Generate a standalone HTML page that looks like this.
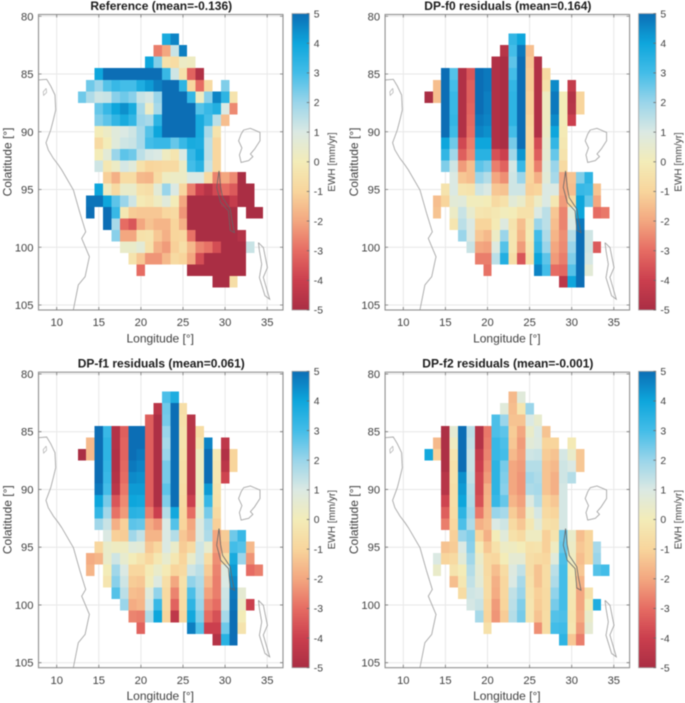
<!DOCTYPE html>
<html lang="en">
<head>
<meta charset="utf-8">
<title>EWH residual maps</title>
<style>
html,body{margin:0;padding:0;background:#fff;}
body{width:685px;height:703px;overflow:hidden;}
svg{display:block;font-family:"Liberation Sans",sans-serif;filter:blur(0.55px);}
</style>
</head>
<body>
<svg id="fig" xmlns="http://www.w3.org/2000/svg" width="685" height="703" viewBox="0 0 685 703"><defs id="defs"></defs></svg>
<script>
const _ = null;
const longitudes = [13,14,15,16,17,18,19,20,21,22,23,24,25,26,27,28,29,30,31,32,33,34];
const colatitudes = [82,83,84,85,86,87,88,89,90,91,92,93,94,95,96,97,98,99,100,101,102,103];
const xTickLabels = [10,15,20,25,30,35];
const yTickLabels = [80,85,90,95,100,105];
const colorTickLabels = [5,4,3,2,1,0,-1,-2,-3,-4,-5];
const colormapValues = [-5,-4,-3,-2,-1,0,1,2,3,4,5];
const colormapColors = ["#aa2e44","#cb3f4e","#e66c63","#f3a780","#f8d59c","#f3ecb8","#dbe9e3","#9ad5ea","#43bde8","#0ea6dc","#0c6eb5"];
const panelTitles = ["Reference (mean=-0.136)","DP-f0 residuals (mean=0.164)","DP-f1 residuals (mean=0.061)","DP-f2 residuals (mean=-0.001)"];
const panelNames = ["reference","dp-f0","dp-f1","dp-f2"];

const referenceValues = [
[_,_,_,_,_,_,_,_,_,_,3.8,4.6,_,_,_,_,_,_,_,_,_,_],
[_,_,_,_,_,_,_,_,_,-2.7,-2,1.3,4.7,_,_,_,_,_,_,_,_,_],
[_,_,_,_,_,_,_,_,4,2.3,-.5,-.7,.3,.2,_,_,_,_,_,_,_,_],
[_,_,4,5,5,5,5,5,5,5,3.2,1.2,-.5,-3.2,-4.8,_,_,_,_,_,_,_],
[_,2.5,2,2.8,3.2,3,3,3.7,4.2,4.7,5,5,3.4,-.9,-3,-.8,_,2.3,_,_,_,_],
[2.5,1.7,1.2,1.3,2.2,2.5,2.2,1.3,1.1,2,5,5,5,3.3,.2,2.2,4.6,3.4,-.4,_,_,_],
[_,_,2.6,3.2,4,4.4,3.8,1.8,.3,1.8,5,5,5,5,2.8,3.2,3.6,1,-2.5,_,_,_],
[_,_,2.3,2.7,3.3,3.8,3.3,2,1.8,3.4,5,5,5,5,3.8,3,1.5,-1.5,_,_,_,_],
[_,_,0,.3,.8,1,1.2,1.8,2.8,4,5,5,5,5,3.8,1.8,-.4,_,_,_,_,_],
[_,_,-.8,0,.8,1.2,1.3,1.8,3,3.2,3.2,2.6,3.2,3.8,3.7,1.5,-.9,_,_,_,_,_],
[_,_,0,.7,2,2.7,2.5,1.5,1.1,1,.2,-.3,1,3.2,3.9,1.5,-.9,_,_,_,_,_],
[_,_,1.2,-.2,.3,1.1,.8,-.5,-1,-.9,-.8,-.8,.3,3,3.5,1.3,-.9,_,_,_,_,_],
[_,_,_,-1.1,-1.8,-.7,-.7,-1.6,-1.7,-.7,.2,.3,.3,1,1,-.8,-2.6,-2,-2.5,-5,_,_],
[_,_,4,.2,-.8,.4,.4,-.5,-.6,.7,2,1,-.9,-2.7,-4,-4.6,-3.8,-3,-3.4,-5,-5,_],
[_,4.9,4.9,4,2.7,2,1.2,-.1,-.3,.2,.8,0,-2,-5,-5,-5,-5,-4.8,-4.2,-5,-5,_],
[_,5,_,5,3.2,-.2,-1.2,-1.3,-1.3,-1.3,-.9,-.8,-2.3,-5,-5,-5,-5,-5,-5,_,-5,-5],
[_,_,_,5,1.8,-3,-3.5,-2,-1.4,-1.7,-1.7,-1,-1.8,-5,-5,-5,-5,-5,-5,_,_,_],
[_,_,_,_,2.2,-2,-2,-.5,-.4,-1.3,-1.8,-1,-.9,-2.9,-5,-5,-5,-5,-5,-4.7,_,_],
[_,_,_,_,_,.4,.4,.7,-.5,-1.8,-2.2,-1.1,-.6,-1.6,-2.6,-2.9,-3.7,-5,-5,-5,1.3,_],
[_,_,_,_,_,_,-.4,-1.3,-2.3,-2.3,-1.6,-.8,-1,-2,-3.7,-5,-5,-5,-5,-5,_,_],
[_,_,_,_,_,_,_,-3,_,_,_,_,_,-5,-5,-5,-5,-5,-5,-5,_,_],
[_,_,_,_,_,_,_,_,_,_,_,_,_,_,_,_,-5,-5,-.6,_,_,_]
];

const dpF0Values = [
[_,_,_,_,_,_,_,_,_,_,3.3,4,_,_,_,_,_,_,_,_,_,_],
[_,_,_,_,_,_,_,_,_,-4.6,3,4.8,-1.5,_,_,_,_,_,_,_,_,_],
[_,_,_,_,_,_,_,_,-4.8,-5,2.7,5,-1.3,-4.8,_,_,_,_,_,_,_,_],
[_,_,5,2.8,-4.8,-3.5,5,4.8,-4.8,-5,3,5,-1.2,-4.8,-.8,_,_,_,_,_,_,_],
[_,-1.5,5,3,-4.8,-3.3,5,4.8,-4.8,-5,3.3,5,-1.2,-4.8,-.5,4.5,_,-4.2,_,_,_,_],
[-5,-1.5,5,3.2,-4.8,-3.3,5,4.7,-4.8,-5,3.4,5,-1.1,-4.8,.2,4.8,0,-4.7,-1,_,_,_],
[_,_,5,3.2,-4.8,-3.2,5,4.7,-4.8,-5,3.4,5,-1.1,-4.8,.2,4.8,0,-4.6,-1,_,_,_],
[_,_,5,3.3,-4.8,-3.1,4.8,4.6,-4.8,-5,3.4,5,-1,-4.8,.2,4.5,0,-4,_,_,_,_],
[_,_,5,3.1,-4.8,-3,4.6,4.4,-4.8,-5,3,5,-.9,-4.8,.3,4,-.1,_,_,_,_,_],
[_,_,4,2.5,-3.8,-2.7,4,4,-4.8,-5,2.4,5,-.9,-3.7,.5,3.3,-.2,_,_,_,_,_],
[_,_,3.3,1.9,-3.3,-2.5,3.5,3.5,-3.6,-4,1.9,4.3,-1,-3.3,.6,2.6,-.4,_,_,_,_,_],
[_,_,2.3,1.2,-2.2,-1.5,2.7,2.4,-2.7,-3.2,1.1,3.2,-1,-2.7,.8,2,-.8,_,_,_,_,_],
[_,_,_,1,-1.3,-1.5,2,1.6,-2,-2.4,1.2,2,-1,-1.8,.7,1.8,-2,-1.4,2.3,3.4,_,_],
[_,_,-.4,1,-.3,-.4,1.2,1,-1.3,-1.4,1.2,1.2,-1.1,-1,1,1,-2,-1.5,3.2,3.1,-1.4,_],
[_,-1.5,-1,.7,.8,.1,.1,0,-.8,-.5,.7,.4,-.6,.3,1,-.2,-2.2,-.8,4,2.6,-2,_],
[_,-1.4,_,.3,1.3,.5,-.3,-.4,-.2,.1,0,-.5,-.5,1,1.5,-1.3,-2.6,.8,4,_,-3,-2.8],
[_,_,_,-.3,1.5,1,-1,-1,-.1,.9,-.4,-1.5,-.2,2,1.5,-1.5,-2.6,1,4.8,_,_,_],
[_,_,_,_,2,1,-1.3,-1.6,.3,2,-.3,-1.7,-.1,3,1.7,-1.7,-2.4,1.6,5,1.2,_,_],
[_,_,_,_,_,1.3,-2,-2.1,.9,2.8,-.3,-2.2,-.3,3.3,2,-2,-2.5,2,5,1.2,-3.4,_],
[_,_,_,_,_,_,-2.7,-2.7,1.5,3.6,-.6,-3.5,-.5,4,2.7,-2.2,-2.7,2.3,5,1.1,_,_],
[_,_,_,_,_,_,_,-2.9,_,_,_,_,_,4.6,3,-3,-3.1,2.8,5,.7,_,_],
[_,_,_,_,_,_,_,_,_,_,_,_,_,_,_,_,-4.5,4,5,_,_,_]
];

const dpF1Values = [
[_,_,_,_,_,_,_,_,_,_,2.9,3.7,_,_,_,_,_,_,_,_,_,_],
[_,_,_,_,_,_,_,_,_,-4.5,2.5,5,-.6,_,_,_,_,_,_,_,_,_],
[_,_,_,_,_,_,_,_,-3.3,-4.9,2.4,5,-.5,-4.6,_,_,_,_,_,_,_,_],
[_,_,5,3.2,-4.7,-3.3,5,5,-3.3,-4.9,2,5,-.4,-4.6,-.7,_,_,_,_,_,_,_],
[_,-1.6,5,3.4,-4.7,-3.2,5,5,-3.3,-4.9,1.8,5,-.4,-4.6,-.4,4.6,_,-4.4,_,_,_,_],
[-5,-1.6,5,3.4,-4.8,-3.2,5,4.8,-3.3,-4.9,2,5,-.5,-4.6,.2,5,-.1,-4.8,-1,_,_,_],
[_,_,5,3.3,-4.8,-3.1,4.8,4.6,-3.3,-4.9,2.4,5,-.6,-4.6,.2,5,-.2,-4.5,-1,_,_,_],
[_,_,5,3.2,-4.7,-3,4.5,4.4,-3.3,-4.9,2.4,5,-.6,-4.6,.2,5,-.2,-3.9,_,_,_,_],
[_,_,4.8,3,-4.5,-2.8,4.2,4.2,-3.3,-4.9,2.7,5,-.7,-4.6,.2,4.2,-.4,_,_,_,_,_],
[_,_,4,2.4,-3.5,-2.5,4,3.9,-3.3,-4.9,2.3,5,-.8,-4,.3,3.2,-.5,_,_,_,_,_],
[_,_,3.3,1.9,-2.9,-2.2,3.5,3.4,-2.7,-4,1.6,3.9,-.9,-3,.5,2.4,-.8,_,_,_,_,_],
[_,_,1.9,1.3,-1.8,-1.1,2.7,2.6,-1.9,-2.3,1,2.8,-1,-2,.9,1.8,-1.1,_,_,_,_,_],
[_,_,_,1,-1.1,-1.2,1.9,1.4,-1.7,-1.7,1,1.6,-1.3,-1.8,.9,1.7,-2,-1.2,2.5,3.2,_,_],
[_,_,-.9,.4,.2,.2,.8,.7,-1.3,-.9,1,.4,-1.2,-.8,1.2,.5,-2.1,-1.4,3,2.8,-1.6,_],
[_,-1.9,-1.7,.4,1.2,.5,0,-.4,-.9,-.2,.5,-.2,-1,.4,1.2,-.7,-2.4,-.7,3.8,2,-2.3,_],
[_,-1.7,_,0,1.9,1,-.9,-.9,-.1,.4,-.1,-1,-.8,1.2,1.5,-1.2,-2.6,.9,4.2,_,-3,-2.7],
[_,_,_,-.3,2.2,1.2,-1.2,-1.3,.1,.9,-.6,-2,-.5,2.1,1.7,-1.6,-2.7,1,4.5,_,_,_],
[_,_,_,_,2.8,1.5,-1.5,-1.6,.8,2.1,-.8,-2.6,-.6,2.9,1.8,-2.1,-2.7,1.2,4.8,.6,_,_],
[_,_,_,_,_,2,-1.9,-1.7,1.1,3.2,-.8,-3.2,-.7,3.4,2,-2.6,-3,1.3,4.9,.3,-4,_],
[_,_,_,_,_,_,-2.6,-2.7,1.7,4,-1,-4.4,-.9,3.9,2.3,-3,-3.6,1.8,5,0,_,_],
[_,_,_,_,_,_,_,-3.2,_,_,_,_,_,4.7,2.8,-4,-4,2.5,5,-.4,_,_],
[_,_,_,_,_,_,_,_,_,_,_,_,_,_,_,_,-4.7,3.5,5,_,_,_]
];

const dpF2Values = [
[_,_,_,_,_,_,_,_,_,_,-1.6,.8,_,_,_,_,_,_,_,_,_,_],
[_,_,_,_,_,_,_,_,_,.8,-1.5,-.3,2,_,_,_,_,_,_,_,_,_],
[_,_,_,_,_,_,_,_,2.9,2,-1.4,-1.4,1,.5,_,_,_,_,_,_,_,_],
[_,_,-4.9,.6,5,1.5,-4.7,-2.8,2.9,2.7,-1.2,-2,.4,1,-1.4,_,_,_,_,_,_,_],
[_,-1.6,-4.9,.2,5,1.4,-4.7,-2.7,3.2,2.9,-1.3,-2.2,.7,.9,-1,-1,_,-.1,_,_,_,_],
[3.9,-1.1,-4.9,-.3,5,1.3,-4.2,-2.6,3.2,3,-1.6,-2.1,1.2,1.3,-1.2,-1.4,1.1,.4,-1.3,_,_,_],
[_,_,-4.9,-.5,5,1.3,-4,-2.4,3.4,2.4,-2,-2.2,1.6,1.6,-1.4,-1.6,1.2,1,-1.3,_,_,_],
[_,_,-4.6,-.5,4.4,1.4,-3.8,-2.2,3.4,2.3,-2,-2.3,1.9,1.7,-1.4,-1.8,1.2,1.6,_,_,_,_],
[_,_,-4.6,-.6,4.2,1.6,-3.8,-1.8,3.4,2.2,-2,-2.3,1.7,1.8,-1.4,-1.8,1.1,_,_,_,_,_],
[_,_,-3.9,-.6,4,1.7,-3.6,-1.7,3.2,2.6,-1.7,-2.1,.9,1.6,-1,-1.3,1.1,_,_,_,_,_],
[_,_,-3.3,-.7,3.4,1.9,-2.8,-1.6,2,1.8,-1.2,-1.8,.3,1.1,-.8,-1,1.1,_,_,_,_,_],
[_,_,-2.7,-.9,2.9,1.7,-1.8,-1.5,1,1.2,-.8,-1.3,-.2,.7,-.5,-.6,1.1,_,_,_,_,_],
[_,_,_,-1.1,2,2.3,-1,-1.8,0,.8,-.5,-.8,.2,.2,-1.1,-.4,2.5,.4,-1.5,-1,_,_],
[_,_,-1.4,-1.2,1,2.2,-.1,-1.3,-.5,.3,.2,0,-.5,-.4,-1.1,.2,2.6,.3,-1.3,-1,1.8,_],
[_,1,-1,-.8,.7,1.9,.4,-.8,-.9,0,.6,.6,-.6,-.8,-.9,.8,2.9,.2,-1.5,-1,2,_],
[_,.4,_,-.4,0,1.6,.6,-.8,-1.5,-.7,.9,1.4,-.6,-1.4,-.7,1.5,3,-.1,-1.3,_,2.8,3],
[_,_,_,-1.5,-.2,1.4,.7,-.7,-1.8,-.9,1,1.8,-.5,-1.4,-.7,1.7,3,-.2,-1.7,_,_,_],
[_,_,_,_,-.7,1.2,1.1,-.7,-1.9,-.9,1.4,2,-.4,-1.1,-.8,2.1,3,-.2,-2,-.5,_,_],
[_,_,_,_,_,1.1,1.3,-.9,-2.2,-1,1.5,2.3,-.3,-1.2,-.8,2.4,3,-.3,-2,0,3.7,_],
[_,_,_,_,_,_,1.8,-1,-2.3,-1.2,1.6,2.4,-.3,-1.4,-.7,2.8,2.9,-.4,-1.9,.4,_,_],
[_,_,_,_,_,_,_,-.5,_,_,_,_,_,-2.4,-.7,3,3.1,-.3,-2.2,.6,_,_],
[_,_,_,_,_,_,_,_,_,_,_,_,_,_,_,_,3.4,-1.3,-2.7,_,_,_]
];

const panelValues = [referenceValues, dpF0Values, dpF1Values, dpF2Values];

/* map outlines as [longitude, colatitude] pairs */
const coastline = [[7.82,85.52],[8.81,85.46],[9.29,86.04],[9.8,86.82],[9.88,88.12],[9.6,88.98],[9.29,89.85],[8.73,90.95],[9,91.58],[9.6,92.3],[10.2,92.88],[10.6,93.31],[11.98,95.04],[12.77,97.06],[13.44,98.66],[12.97,99.23],[13.88,100.82],[13.37,102.55],[12.57,103.27],[11.98,105.4]];
const smallLake = [[8.75,86.25],[8.4,86.55],[8.45,86.85],[8.8,86.6],[8.75,86.25]];
const lakeVictoria = [[32.2,89.85],[33,89.7],[34.15,90.06],[34.15,90.78],[33.5,91.5],[33,91.93],[33.3,92.15],[32.8,92.5],[31.9,92.65],[31.7,92],[32,91.4],[31.6,90.78],[31.9,90.2],[32.2,89.85]];
const lakeTanganyika = [[29.28,93.39],[29.48,94.83],[29.7,95.7],[30.6,96.7],[30.8,97.6],[31.1,98.73],[30.6,98.53],[30.4,96.85],[29.48,96.13],[29,94.83],[29.28,93.39]];
const lakeMalawi = [[33.95,99.6],[34.55,100.03],[35.02,101.76],[34.54,102.6],[35.3,104.5],[34.74,104.2],[34.07,102.63],[34.35,101.47],[34.07,100.3],[33.95,99.6]];

const SVGNS = "http://www.w3.org/2000/svg";
const fig = document.getElementById("fig");
const defs = document.getElementById("defs");
const GREY = "#8f8f8f", TEXT = "#404040";

function make(tag, attrs, parent, text) {
  const el = document.createElementNS(SVGNS, tag);
  for (const k in attrs) el.setAttribute(k, attrs[k]);
  if (text !== undefined) el.textContent = text;
  (parent || fig).appendChild(el);
  return el;
}
function hexToRgb(h) {
  return [parseInt(h.slice(1,3),16),parseInt(h.slice(3,5),16),parseInt(h.slice(5,7),16)];
}
function colorFor(v) {
  const c = Math.max(colormapValues[0], Math.min(colormapValues[colormapValues.length-1], v));
  let i = 0;
  while (i < colormapValues.length-2 && c > colormapValues[i+1]) i++;
  const t = (c-colormapValues[i])/(colormapValues[i+1]-colormapValues[i]);
  const a = hexToRgb(colormapColors[i]), b = hexToRgb(colormapColors[i+1]);
  return "rgb("+a.map((x,k)=>Math.round(x+(b[k]-x)*t)).join(",")+")";
}

/* shared colorbar gradient */
const gradient = make("linearGradient",{id:"cbGrad",x1:0,y1:1,x2:0,y2:0},defs);
colormapValues.forEach((v,i)=>{
  make("stop",{offset:(v-colormapValues[0])/(colormapValues[colormapValues.length-1]-colormapValues[0]),"stop-color":colormapColors[i]},gradient);
});

function drawPanel(index) {
  const ox = index % 2 ? 346.6 : 0;
  const oy = index > 1 ? 357.7 : 0;
  const x = lon => ox + 56.7 + (lon-10)*8.42;
  const y = col => oy + 74 + (col-85)*11.55;
  const left = ox+38.5, right = ox+283, top = oy+14.5, bottom = oy+310;
  const name = panelNames[index];

  const g = make("g",{});
  
  

  const clip = make("clipPath",{id:"clip"+index},defs);
  make("rect",{x:left,y:top,width:right-left,height:bottom-top},clip);

  const title = make("text",{x:(left+right)/2+0.5,y:oy+10,"text-anchor":"middle","font-size":12,"font-weight":"bold",fill:"#1c1c1c"},g,panelTitles[index]);
  
  

  /* grid */
  xTickLabels.forEach(t=>{
    const line = make("line",{x1:x(t),x2:x(t),y1:top,y2:bottom,stroke:"#e8e8e8","stroke-width":1},g);
    
    
  });
  yTickLabels.forEach(t=>{
    const line = make("line",{y1:y(t),y2:y(t),x1:left,x2:right,stroke:"#e8e8e8","stroke-width":1},g);
    
    
  });

  /* cells */
  const cells = make("g",{"shape-rendering":"crispEdges"},g);
  
  
  panelValues[index].forEach((row,r)=>{
    row.forEach((v,c)=>{
      if (v === null) return;
      const lon = longitudes[c], col = colatitudes[r];
      const fill = colorFor(v);
      const cell = make("rect",{x:x(lon-0.5),y:y(col-0.5),width:x(lon+0.5)-x(lon-0.5),height:y(col+0.5)-y(col-0.5),fill:fill},cells);
      
      
    });
  });

  /* outlines */
  const outlineLayer = make("g",{"clip-path":"url(#clip"+index+")",fill:"none"},g);
  
  
  const pts = arr => arr.map(p=>x(p[0]).toFixed(1)+","+y(p[1]).toFixed(1)).join(" ");
  const coastEl = make("polyline",{points:pts(coastline),stroke:"#a6a6a6","stroke-width":0.9},outlineLayer);
  
  
  const smallEl = make("polyline",{points:pts(smallLake),stroke:"#b0b0b0","stroke-width":0.7},outlineLayer);
  
  
  const victoriaEl = make("polyline",{points:pts(lakeVictoria),stroke:"#a6a6a6","stroke-width":0.9},outlineLayer);
  
  
  const tanganyikaEl = make("polyline",{points:pts(lakeTanganyika),stroke:"#666","stroke-width":0.8},outlineLayer);
  
  
  const malawiEl = make("polyline",{points:pts(lakeMalawi),stroke:"#999","stroke-width":0.8},outlineLayer);
  
  

  /* axes box */
  const box = make("rect",{x:left,y:top,width:right-left,height:bottom-top,fill:"none",stroke:GREY,"stroke-width":1.1},g);
  
  

  /* ticks and labels */
  xTickLabels.forEach(t=>{
    const d = "M"+x(t)+" "+bottom+"v-3M"+x(t)+" "+top+"v3";
    const tick = make("path",{d:d,stroke:"#777","stroke-width":0.8,fill:"none"},g);
    
    
    const label = make("text",{x:x(t),y:bottom+16.2,"text-anchor":"middle","font-size":11.2,fill:TEXT},g,String(t));
    
    
  });
  yTickLabels.forEach(t=>{
    const d = "M"+left+" "+y(t)+"h3M"+right+" "+y(t)+"h-3";
    const tick = make("path",{d:d,stroke:"#777","stroke-width":0.8,fill:"none"},g);
    
    
    const label = make("text",{x:left-5,y:y(t)+4,"text-anchor":"end","font-size":11.2,fill:TEXT},g,String(t));
    
    
  });

  const xTitle = make("text",{x:(left+right)/2-0.5,y:oy+342.5,"text-anchor":"middle","font-size":12,fill:TEXT},g,"Longitude [°]");
  
  
  const yCx = ox+11.5, yCy = oy+162;
  const yTitle = make("text",{x:yCx,y:yCy,"text-anchor":"middle","font-size":12,fill:TEXT,transform:"rotate(-90 "+yCx+" "+yCy+")"},g,"Colatitude [°]");
  
  

  /* colorbar */
  const cbX = ox+292, cbW = 17.3, cbTop = oy+13.6, cbBot = oy+310;
  const cb = make("rect",{x:cbX,y:cbTop,width:cbW,height:cbBot-cbTop,fill:"url(#cbGrad)",stroke:"#a0a0a0","stroke-width":0.8},g);
  
  
  colorTickLabels.forEach(t=>{
    const yy = cbBot - (t+5)/10*(cbBot-cbTop);
    const tick = make("line",{x1:cbX+cbW-2.5,x2:cbX+cbW,y1:yy,y2:yy,stroke:"#666","stroke-width":0.8},g);
    
    
    const label = make("text",{x:cbX+cbW+4.5,y:yy+3.7,"font-size":10.4,fill:TEXT},g,String(t));
    
    
  });
  const cbCx = ox+335, cbCy = oy+162;
  const cbTitle = make("text",{x:cbCx,y:cbCy,"text-anchor":"middle","font-size":10,fill:TEXT,transform:"rotate(-90 "+cbCx+" "+cbCy+")"},g,"EWH [mm/yr]");
  
  
}

panelValues.forEach((v,i)=>drawPanel(i));
</script>
</body>
</html>
